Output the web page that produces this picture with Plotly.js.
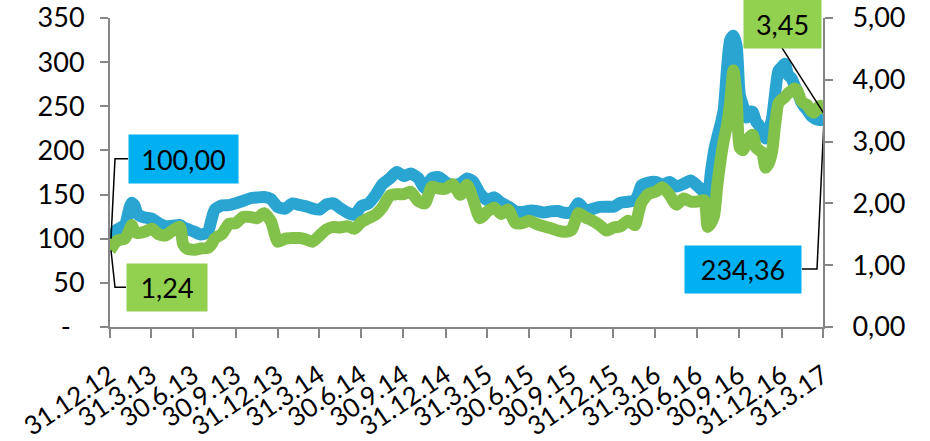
<!DOCTYPE html>
<html>
<head>
<meta charset="utf-8">
<script src="https://cdn.plot.ly/plotly-3.0.1.min.js"></script>
<style>html,body{margin:0;padding:0;background:#fff}#chart{width:930px;height:441px}</style>
</head>
<body>
<div id="chart"></div>
<script>
const dates = [
'2012-12-31','2013-01-16','2013-02-01','2013-02-12','2013-02-16','2013-02-22','2013-03-01','2013-03-16','2013-04-01','2013-04-16','2013-05-01','2013-05-16','2013-06-01','2013-06-08','2013-06-16','2013-07-01','2013-07-16','2013-08-01','2013-08-08','2013-08-16','2013-09-01','2013-09-16','2013-10-01','2013-10-16','2013-11-01','2013-11-16','2013-12-01','2013-12-16','2013-12-31',
'2014-01-16','2014-02-01','2014-02-16','2014-03-01','2014-03-16','2014-04-01','2014-04-16','2014-05-01','2014-05-16','2014-06-01','2014-06-16','2014-07-01','2014-07-16','2014-08-01','2014-08-16','2014-09-01','2014-09-16','2014-10-01','2014-10-16','2014-11-01','2014-11-16','2014-12-01','2014-12-16',
'2015-01-01','2015-01-16','2015-02-01','2015-02-16','2015-03-01','2015-03-16','2015-04-01','2015-04-16','2015-05-01','2015-05-16','2015-06-01','2015-06-16','2015-07-01','2015-07-16','2015-08-01','2015-08-16','2015-09-01','2015-09-16','2015-10-01','2015-10-16','2015-11-01','2015-11-16','2015-12-01','2015-12-16',
'2016-01-01','2016-01-16','2016-02-01','2016-02-16','2016-02-24','2016-03-01','2016-03-16','2016-04-01','2016-04-16','2016-05-01','2016-05-16','2016-06-01','2016-06-16','2016-07-01','2016-07-16','2016-07-23','2016-07-30','2016-08-06','2016-08-13','2016-08-20','2016-08-27','2016-09-03','2016-09-10','2016-09-17','2016-09-24','2016-10-01','2016-10-08','2016-10-15','2016-10-22','2016-10-29','2016-11-05','2016-11-12','2016-11-19','2016-11-26','2016-12-03','2016-12-10','2016-12-17','2016-12-24','2016-12-31',
'2017-01-07','2017-01-14','2017-01-21','2017-01-28','2017-02-04','2017-02-11','2017-02-18','2017-02-25','2017-03-04','2017-03-11','2017-03-18','2017-03-25','2017-03-31'
];
const indexBlue = [
100.0,110.7,115.4,136.0,140.6,138.0,128.0,124.0,122.9,117.5,114.2,114.7,115.5,113.0,111.1,108.3,104.8,107.6,120.0,133.1,137.8,138.1,140.3,142.7,145.8,146.7,147.3,145.0,135.9,
134.1,140.0,138.2,136.9,134.3,133.0,138.9,140.0,134.5,129.5,127.0,136.9,139.7,149.8,162.0,168.4,175.7,170.9,173.8,168.8,157.3,168.4,169.9,
163.8,160.8,162.5,168.1,164.7,151.1,143.8,146.9,140.6,136.5,131.0,130.3,131.8,131.5,129.7,131.0,131.3,129.4,129.7,140.1,131.7,133.8,136.1,136.3,
136.3,140.8,141.9,143.2,151.8,160.5,163.7,164.3,161.2,164.2,159.1,162.2,165.9,159.8,152.1,145.4,174.9,199.0,215.0,229.0,246.0,291.0,325.0,330.0,319.0,263.0,250.6,237.2,243.9,243.7,233.1,228.2,219.9,213.6,223.0,235.6,265.0,290.3,294.5,
298.2,285.6,282.1,274.0,265.5,255.6,249.7,245.3,239.9,236.7,235.1,234.4,234.36
];
const ratioGreen = [
1.24,1.40,1.43,1.58,1.65,1.55,1.52,1.54,1.59,1.50,1.48,1.56,1.62,1.34,1.27,1.25,1.27,1.28,1.33,1.43,1.51,1.67,1.68,1.78,1.78,1.76,1.84,1.71,1.38,
1.43,1.44,1.44,1.42,1.38,1.48,1.58,1.62,1.61,1.63,1.59,1.70,1.76,1.82,1.94,2.13,2.15,2.15,2.19,2.04,2.00,2.27,2.24,
2.24,2.31,2.14,2.30,2.06,1.76,1.87,1.93,1.83,1.90,1.68,1.68,1.72,1.67,1.63,1.60,1.56,1.54,1.57,1.84,1.77,1.72,1.65,1.56,
1.61,1.63,1.72,1.65,1.86,2.01,2.15,2.19,2.26,2.14,1.98,2.08,2.03,2.03,2.05,1.62,1.68,1.80,2.29,2.69,3.01,3.26,3.63,4.15,3.73,2.90,2.86,2.96,3.07,3.11,2.91,2.86,2.82,2.58,2.65,2.83,3.28,3.62,3.68,
3.72,3.78,3.82,3.86,3.81,3.67,3.62,3.59,3.51,3.47,3.53,3.58,3.45
];
const quarterDates = ['2012-12-31','2013-03-31','2013-06-30','2013-09-30','2013-12-31','2014-03-31','2014-06-30','2014-09-30','2014-12-31','2015-03-31','2015-06-30','2015-09-30','2015-12-31','2016-03-31','2016-06-30','2016-09-30','2016-12-31','2017-03-31'];
const quarterLabels = ['31.12.12','31.3.13','30.6.13','30.9.13','31.12.13','31.3.14','30.6.14','30.9.14','31.12.14','31.3.15','30.6.15','30.9.15','31.12.15','31.3.16','30.6.16','30.9.16','31.12.16','31.3.17'];
const leftTicks = [0,50,100,150,200,250,300,350];
const leftTickLabels = ['-\u00a0\u00a0','50','100','150','200','250','300','350'];
const rightTicks = [0,1,2,3,4,5];
const rightTickLabels = ['0,00','1,00','2,00','3,00','4,00','5,00'];

const fmt = v => v.toFixed(2).replace('.', ',');
const FONT = 'Lato, "Open Sans", sans-serif';
const AX = '#868686';
const n = dates.length - 1;

const traces = [
  {x: dates, y: indexBlue, type: 'scatter', mode: 'lines', yaxis: 'y',
   line: {color: '#2AA5D1', width: 12, shape: 'spline', smoothing: 0.6}, hoverinfo: 'skip'},
  {x: dates, y: ratioGreen, type: 'scatter', mode: 'lines', yaxis: 'y2',
   line: {color: '#83C24A', width: 12, shape: 'spline', smoothing: 0.6}, hoverinfo: 'skip'}
];

function label(x, y, yref, text, bg, xanchor, xshift, yshift, w, h) {
  return {x: x, y: y, xref: 'x', yref: yref, text: text, showarrow: false,
    xanchor: xanchor, yanchor: 'middle', xshift: xshift, yshift: yshift,
    bgcolor: bg, borderpad: 0, width: w, height: h, align: 'center', valign: 'middle',
    font: {family: FONT, size: 27, color: '#000'}};
}
function leader(x, y, yref, path) {
  return {type: 'path', xref: 'x', yref: yref, xsizemode: 'pixel', ysizemode: 'pixel',
    xanchor: x, yanchor: y, path: path, line: {color: '#000', width: 1.5}, layer: 'above'};
}

const layout = {
  width: 930, height: 441,
  margin: {l: 110, r: 107, t: 18, b: 114, pad: 0},
  paper_bgcolor: '#fff', plot_bgcolor: '#fff',
  showlegend: false,
  font: {family: FONT, size: 27, color: '#000'},
  xaxis: {type: 'date', range: [quarterDates[0], quarterDates[quarterDates.length-1]],
    tickmode: 'array', tickvals: quarterDates, ticktext: quarterLabels, tickangle: -34,
    ticks: 'outside', ticklen: 9, tickwidth: 2, tickcolor: AX,
    showline: true, linecolor: AX, linewidth: 2, showgrid: false, zeroline: false,
    ticklabelstandoff: 12, tickfont: {family: FONT, size: 26, color: '#000'}},
  yaxis: {range: [0, 350], tickmode: 'array', tickvals: leftTicks, ticktext: leftTickLabels,
    ticks: 'outside', ticklen: 8, tickwidth: 2, tickcolor: AX,
    showline: true, linecolor: AX, linewidth: 2, showgrid: false, zeroline: false,
    ticklabelstandoff: 10, tickfont: {family: FONT, size: 27, color: '#000'}},
  yaxis2: {range: [0, 5], overlaying: 'y', side: 'right', tickmode: 'array',
    tickvals: rightTicks, ticktext: rightTickLabels,
    ticks: 'outside', ticklen: 8, tickwidth: 2, tickcolor: AX,
    showline: true, linecolor: AX, linewidth: 2, showgrid: false, zeroline: false,
    ticklabelstandoff: 14, tickfont: {family: FONT, size: 27, color: '#000'}},
  annotations: [
    label(dates[0], indexBlue[0], 'y', fmt(indexBlue[0]), '#00B0F0', 'left', 18, 80, 109, 48),
    label(dates[0], ratioGreen[0], 'y2', fmt(ratioGreen[0]), '#92D050', 'left', 16, -37, 80, 47),
    label(dates[n], indexBlue[n], 'y', fmt(indexBlue[n]), '#00B0F0', 'right', -21, -149, 116, 47),
    label(dates[n], ratioGreen[n], 'y2', fmt(ratioGreen[n]), '#92D050', 'right', -1, 90, 77, 48)
  ],
  shapes: [
    leader(dates[0], indexBlue[0], 'y', 'M1,0 L5,80 L18,80'),
    leader(dates[0], ratioGreen[0], 'y2', 'M1,0 L5,-37 L16,-37'),
    leader(dates[n], indexBlue[n], 'y', 'M1,0 L-6,-149 L-21,-149'),
    leader(dates[n], ratioGreen[n], 'y2', 'M1,0 L-41,66')
  ]
};

Plotly.newPlot('chart', traces, layout, {staticPlot: true, displayModeBar: false});
</script>
</body>
</html>
